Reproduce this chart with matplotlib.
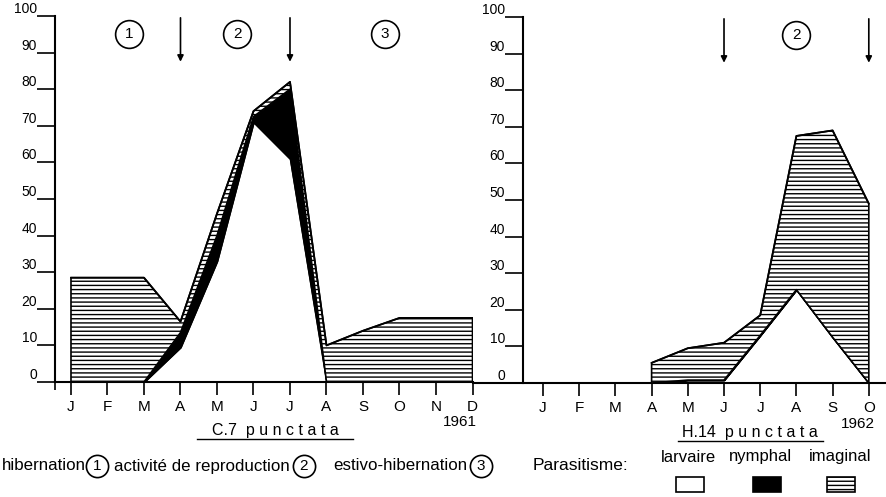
import numpy as np
import matplotlib
matplotlib.use("Agg")
import matplotlib.pyplot as plt
from matplotlib.lines import Line2D
from matplotlib.patches import Rectangle

# ---------------- data ----------------
months_1961 = ['J', 'F', 'M', 'A', 'M', 'J', 'J', 'A', 'S', 'O', 'N', 'D']
c7_larvaire = [0, 0, 0, 9.5, 33, 71, 61, 0, 0, 0, 0, 0]
c7_nymphal = [0, 0, 0, 4, 7, 1.5, 19, 0, 0, 0, 0, 0]
c7_imaginal = [28.5, 28.5, 28.5, 3, 6, 1.5, 2, 10, 14, 17.5, 17.5, 17.5]

months_1962 = ['J', 'F', 'M', 'A', 'M', 'J', 'J', 'A', 'S', 'O']
h14_first = 3  # data start at April
h14_larvaire = [0, 0.8, 0.8, 13, 25.5, 12.5, 0]
h14_nymphal = [0, 0, 0, 0, 0, 0, 0]
h14_imaginal = [5.5, 8.7, 10.2, 5.5, 42, 56.5, 49]

yticks = [0, 10, 20, 30, 40, 50, 60, 70, 80, 90, 100]
ytick_labels = [str(v) for v in yticks]

# phase annotations (month index)
c7_arrows = [3, 6]
c7_phases = [(1.6, '1'), (4.55, '2'), (8.6, '3')]
h14_arrows = [5, 9]
h14_phases = [(7.0, '2')]

FONT = ['Liberation Sans', 'DejaVu Sans']
plt.rcParams['font.family'] = FONT
plt.rcParams['hatch.linewidth'] = 1.0

W, H = 886, 497
fig = plt.figure(figsize=(W / 100, H / 100), dpi=100)


def fx(px):
    return px / W


def fy(py):
    return 1 - py / H


def draw_layers(ax, x, L, N, I):
    L = np.asarray(L, float)
    N = np.asarray(N, float)
    I = np.asarray(I, float)
    LN = L + N
    T = LN + I
    ax.fill_between(x, 0, L, facecolor='white', edgecolor='black', linewidth=1.2, zorder=2)
    ax.fill_between(x, L, LN, facecolor='black', edgecolor='black', linewidth=1.0, zorder=3)
    ax.fill_between(x, LN, T, facecolor='white', edgecolor='black', hatch='----',
                    linewidth=1.2, zorder=4)
    ax.plot(x, T, color='black', lw=1.3, zorder=5)


def style_axes(ax, labels, xlim, spine_pos=None):
    ax.set_xlim(*xlim)
    ax.set_ylim(0, 100)
    if spine_pos is not None:
        ax.spines['left'].set_position(('data', spine_pos))
    ax.set_yticks(yticks)
    ax.set_yticklabels(ytick_labels, fontsize=10, va='bottom')
    ax.set_xticks(range(len(labels)))
    ax.set_xticklabels(labels, fontsize=11)
    ax.tick_params(axis='y', length=13, width=1.2, direction='out', pad=0)
    ax.tick_params(axis='x', length=9, width=1.2, direction='out', pad=4)
    for s in ['top', 'right']:
        ax.spines[s].set_visible(False)
    for s in ['left', 'bottom']:
        ax.spines[s].set_linewidth(1.5)
    ax.set_facecolor('none')


def phase_marks(ax, arrows, phases):
    for a in arrows:
        ax.annotate('', xy=(a, 87.5), xytext=(a, 99.5),
                    arrowprops=dict(arrowstyle='-|>', color='black', lw=1.2,
                                    mutation_scale=9, shrinkA=0, shrinkB=0))
    for xp, lab in phases:
        ax.plot([xp], [95], 'o', ms=20, mfc='white', mec='black', mew=1.2, zorder=6)
        ax.text(xp, 95, lab, ha='center', va='center', fontsize=11, zorder=7)


# ---------------- left chart (C.7, 1961) ----------------
axL = fig.add_axes([fx(55), fy(382), (472.5 - 55) / W, 366 / H])
style_axes(axL, months_1961, (-0.438, 11.0))
axL.set_xticks([-0.438], minor=True)
axL.tick_params(axis='x', which='minor', length=6, width=1.2)
draw_layers(axL, np.arange(len(months_1961)), c7_larvaire, c7_nymphal, c7_imaginal)
phase_marks(axL, c7_arrows, c7_phases)

# ---------------- right chart (H.14, 1962) ----------------
axR = fig.add_axes([fx(472.5), fy(383), (886 - 472.5) / W, 366 / H])
style_axes(axR, months_1962, (-1.948, 9.475), spine_pos=-0.552)
xr = np.arange(h14_first, len(months_1962))
draw_layers(axR, xr, h14_larvaire, h14_nymphal, h14_imaginal)
phase_marks(axR, h14_arrows, h14_phases)

for ax in (axL, axR):
    for t in ax.get_yticklabels():
        t.set_verticalalignment('bottom')

# ---------------- captions ----------------
fig.text(fx(275), fy(431), 'C.7  p u n c t a t a', ha='center', va='center', fontsize=11.5)
fig.add_artist(Line2D([fx(197), fx(353)], [fy(439), fy(439)], color='black', lw=1.0))
fig.text(fx(460), fy(422), '1961', ha='center', va='center', fontsize=11)
fig.text(fx(750), fy(433), 'H.14  p u n c t a t a', ha='center', va='center', fontsize=11.5)
fig.add_artist(Line2D([fx(678), fx(823)], [fy(441), fy(441)], color='black', lw=1.0))
fig.text(fx(858), fy(424), '1962', ha='center', va='center', fontsize=11)

# ---------------- legend row ----------------
ly = 466
fig.text(fx(2), fy(ly), 'hibernation', ha='left', va='center', fontsize=12.2)
fig.text(fx(114), fy(ly), 'activité de reproduction', ha='left', va='center', fontsize=12.2)
fig.text(fx(333), fy(ly), 'estivo-hibernation', ha='left', va='center', fontsize=12.2)
for cx, lab in [(97, '1'), (304, '2'), (481, '3')]:
    fig.add_artist(Line2D([fx(cx)], [fy(ly)], marker='o', ms=16, mfc='white',
                          mec='black', mew=1.2, transform=fig.transFigure))
    fig.text(fx(cx), fy(ly), lab, ha='center', va='center', fontsize=11)

fig.text(fx(533), fy(ly), 'Parasitisme:', ha='left', va='center', fontsize=12.5)
fig.text(fx(688), fy(457), 'larvaire', ha='center', va='center', fontsize=12)
fig.text(fx(760), fy(457), 'nymphal', ha='center', va='center', fontsize=12)
fig.text(fx(840), fy(457), 'imaginal', ha='center', va='center', fontsize=12)
boxes = [(676, 'white', ''), (753, 'black', ''), (827, 'white', '----')]
for bx, fc, ht in boxes:
    fig.add_artist(Rectangle((fx(bx), fy(492)), 28 / W, 15 / H, facecolor=fc,
                             edgecolor='black', hatch=ht, lw=1.2,
                             transform=fig.transFigure))

fig.savefig('out.png', dpi=100)
